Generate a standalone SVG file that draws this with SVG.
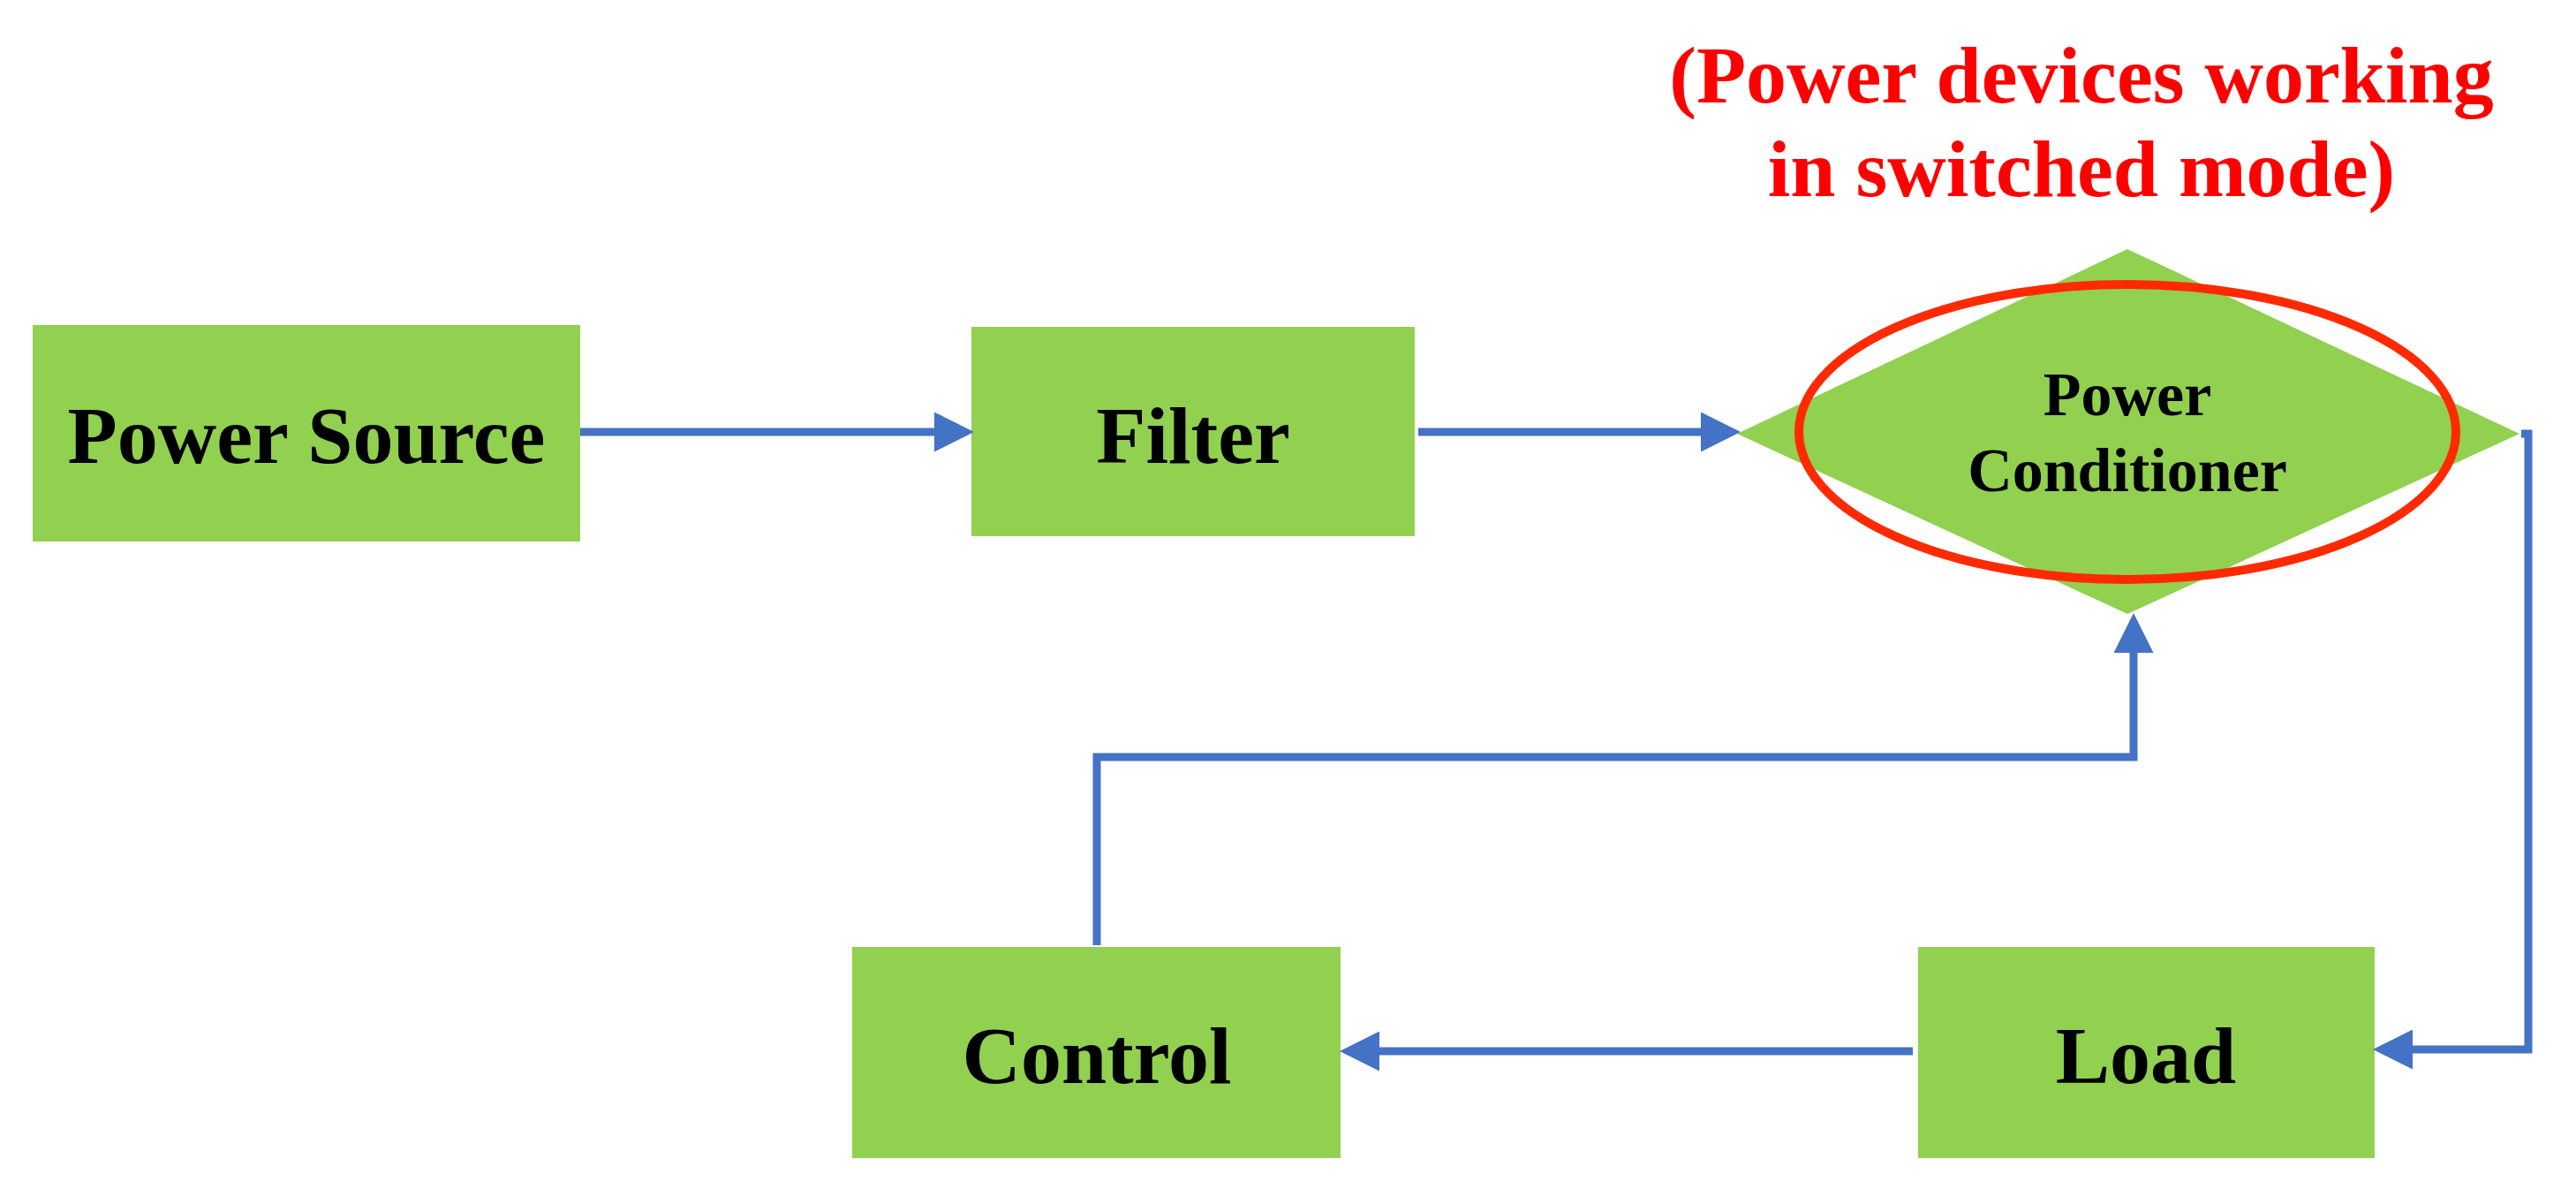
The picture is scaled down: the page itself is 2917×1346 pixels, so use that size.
<svg xmlns="http://www.w3.org/2000/svg" width="2917" height="1346" viewBox="0 0 2917 1346">
<defs>
<style>
.box{fill:#92D050}
.t{font-family:"Liberation Serif",serif;font-weight:bold;fill:#000;text-anchor:middle}
.c{fill:none;stroke:#4472C4;stroke-width:9}
</style>
<marker id="ah" markerWidth="5" markerHeight="5" refX="4" refY="2.5" orient="auto" markerUnits="strokeWidth"><path d="M0,0 L5,2.5 L0,5 Z" fill="#4472C4"/></marker>
</defs>
<rect width="2917" height="1346" fill="#fff"/>
<g id="power-source"><rect class="box" x="37" y="368" width="620" height="245"/><text class="t" x="347" y="524" font-size="92">Power Source</text></g>
<g id="filter"><rect class="box" x="1100" y="370" width="502" height="237"/><text class="t" x="1351" y="524" font-size="92">Filter</text></g>
<g id="power-conditioner"><polygon class="box" points="1967,491 2409,282 2853,491 2409,695"/><text class="t" x="2409" y="470" font-size="70">Power</text><text class="t" x="2409" y="556" font-size="70">Conditioner</text>
<ellipse cx="2409" cy="489" rx="372" ry="167" fill="none" stroke="#FF2A00" stroke-width="10"/></g>
<g id="note"><text class="t" x="2357" y="116" font-size="92" style="fill:#FF0000">(Power devices working</text><text class="t" x="2357" y="222" font-size="92" style="fill:#FF0000">in switched mode)</text></g>
<g id="control"><rect class="box" x="965" y="1072" width="553" height="239"/><text class="t" x="1242" y="1226" font-size="92">Control</text></g>
<g id="load"><rect class="box" x="2172" y="1072" width="517" height="239"/><text class="t" x="2430" y="1226" font-size="92">Load</text></g>
<g id="connectors">
<path class="c" d="M657,489 L1094,489" marker-end="url(#ah)"/>
<path class="c" d="M1606,489 L1962,489" marker-end="url(#ah)"/>
<path class="c" d="M2855,491 L2863,491 L2863,1188 L2696,1188" marker-end="url(#ah)"/>
<path class="c" d="M2166,1190 L1526,1190" marker-end="url(#ah)"/>
<path class="c" d="M1242,1070 L1242,857 L2416,857 L2416,703" marker-end="url(#ah)"/>
</g>
</svg>
